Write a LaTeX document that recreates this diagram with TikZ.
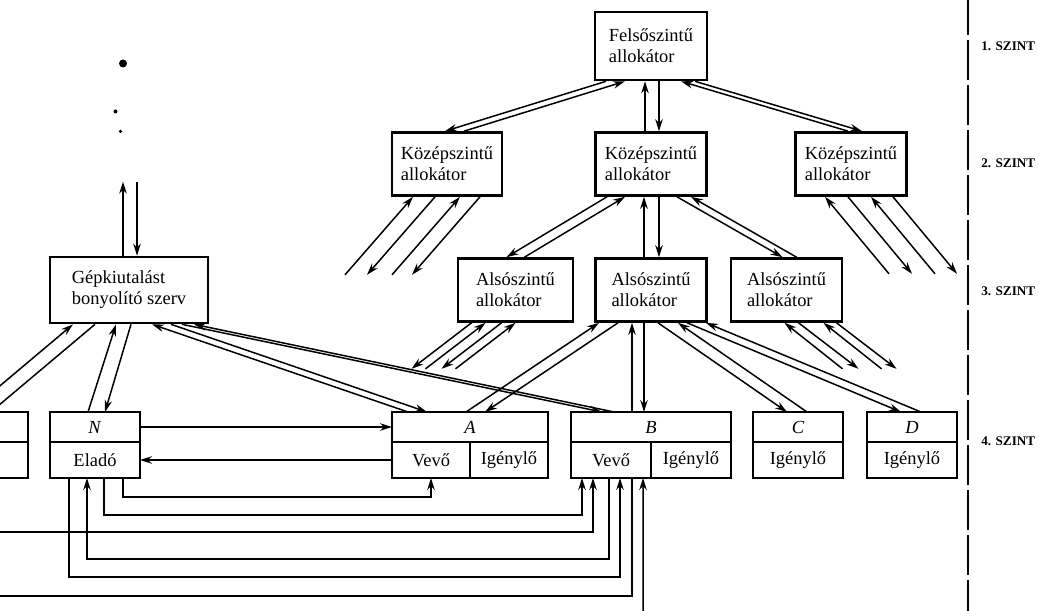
\documentclass[tikz,border=0pt]{standalone}
\usepackage{fontspec}
\setmainfont{Liberation Serif}
\usepackage{tikz}
\usetikzlibrary{arrows.meta, positioning}

\begin{document}
\begin{tikzpicture}[
  box/.style={draw, line width=1.5pt, align=left, font=\fontsize{10.5}{12}\selectfont,
  minimum width=2.22cm, minimum height=1.26cm, inner sep=2pt},
  cell/.style={draw, line width=1.5pt, outer sep=0pt, inner sep=0pt,
  font=\fontsize{10.5}{12}\selectfont, minimum width=1.8cm},
  celltop/.style={cell, minimum height=0.6cm},
  cellbot/.style={cell, minimum height=0.72cm},
  arr/.style={-{Stealth[length=2.4mm,width=1.5mm]}, line width=0.85pt},
  rarr/.style={{Stealth[length=2.4mm,width=1.5mm]}-, line width=0.85pt},
  ln/.style={line width=0.85pt},
  lvl/.style={anchor=west, inner sep=0pt, font=\bfseries\fontsize{7.5}{9}\selectfont}
]
\useasboundingbox (0,0) rectangle (20.78,-12.22);
\clip (0,0) rectangle (20.78,-12.22);

% allokatorok
\node[box, minimum width=2.24cm, minimum height=1.36cm] (felso) at (13.02,-0.92) {Felsőszintű\\allokátor};
\node[box, minimum width=2.2cm] (kozL) at (8.94,-3.28) {Középszintű\\allokátor};
\node[box] (kozM) at (13.02,-3.28) {Középszintű\\allokátor};
\node[box] (kozR) at (17.02,-3.28) {Középszintű\\allokátor};
\node[box, minimum width=2.3cm] (alsL) at (10.31,-5.8) {Alsószintű\\allokátor};
\node[box] (alsM) at (13.02,-5.8) {Alsószintű\\allokátor};
\node[box] (alsR) at (15.73,-5.8) {Alsószintű\\allokátor};
\node[box, minimum width=3.16cm, minimum height=1.32cm] (gep) at (2.58,-5.8) {Gépkiutalást\\bonyolító szerv};

% 4. szint
\node[celltop] (xTop) at (-0.34,-8.54) {};
\node[cellbot, below=0pt of xTop] (xBot) {};
\node[celltop] (nTop) at (1.9,-8.54) {\textit{N}};
\node[cellbot, below=0pt of nTop] (nBot) {Eladó};
\node[celltop, minimum width=3.12cm] (aTop) at (9.4,-8.54) {\textit{A}};
\node[cellbot, minimum width=1.56cm, below right=0pt and 0pt of aTop.south west] (aVevo) {Vevő};
\node[cellbot, minimum width=1.56cm, right=0pt of aVevo] (aIgeny) {Igénylő};
\node[celltop, minimum width=3.2cm] (bTop) at (13.02,-8.54) {\textit{B}};
\node[cellbot, minimum width=1.6cm, below right=0pt and 0pt of bTop.south west] (bVevo) {Vevő};
\node[cellbot, minimum width=1.6cm, right=0pt of bVevo] (bIgeny) {Igénylő};
\node[celltop] (cTop) at (15.96,-8.54) {\textit{C}};
\node[cellbot, below=0pt of cTop] (cIgeny) {Igénylő};
\node[celltop] (dTop) at (18.24,-8.54) {\textit{D}};
\node[cellbot, below=0pt of dTop] (dIgeny) {Igénylő};

% szintek
\draw[line width=0.9pt, dash pattern=on 0.8cm off 0.1cm] (19.36,0.1) -- (19.36,-12.3);
\node[lvl] (sz1) at (19.62,-0.92) {1. SZINT};
\node[lvl] (sz2) at (19.62,-3.26) {2. SZINT};
\node[lvl] (sz3) at (19.62,-5.82) {3. SZINT};
\node[lvl] (sz4) at (19.62,-8.82) {4. SZINT};

\fill (2.46,-1.27) circle (0.08);
\fill (2.31,-2.23) circle (0.04);
\fill (2.41,-2.63) circle (0.035);

\coordinate (westA) at (-0.2,-10.64);
\coordinate (westB) at (-0.2,-11.92);
\coordinate (bFeed) at (12.86,-12.5);

% felso - kozep
\draw[arr] ([xshift=-0.9cm]felso.south) -- ([xshift=-0.04cm]kozL.north);
\draw[arr] ([xshift=0.34cm]kozL.north) -- ([xshift=-0.52cm]felso.south);
\draw[arr] ([xshift=-0.12cm]kozM.north) -- ([xshift=-0.12cm]felso.south);
\draw[arr] ([xshift=0.16cm]felso.south) -- ([xshift=0.16cm]kozM.north);
\draw[arr] ([xshift=-0.06cm]kozR.north) -- ([xshift=0.6cm]felso.south);
\draw[arr] ([xshift=0.88cm]felso.south) -- ([xshift=0.22cm]kozR.north);

% kozep - also
\draw[arr] ([xshift=-0.88cm]kozM.south) -- ([xshift=-0.18cm]alsL.north);
\draw[arr] ([xshift=0.18cm]alsL.north) -- ([xshift=-0.52cm]kozM.south);
\draw[arr] ([xshift=-0.14cm]alsM.north) -- ([xshift=-0.14cm]kozM.south);
\draw[arr] ([xshift=0.16cm]kozM.south) -- ([xshift=0.16cm]alsM.north);
\draw[arr] ([xshift=0.52cm]kozM.south) -- ([xshift=-0.08cm]alsR.north);
\draw[arr] ([xshift=0.2cm]alsR.north) -- ([xshift=0.8cm]kozM.south);

% kifele mutato nyilak
\foreach \dx in {-0.68,0.26} \draw[rarr] ([xshift=\dx cm]kozL.south) -- ++(-1.36,-1.56);
\foreach \dx in {-0.24,0.66} \draw[arr] ([xshift=\dx cm]kozL.south) -- ++(-1.36,-1.56);
\foreach \dx in {-0.52,0.4} \draw[rarr] ([xshift=\dx cm]kozR.south) -- ++(1.28,-1.54);
\foreach \dx in {-0.06,0.84} \draw[arr] ([xshift=\dx cm]kozR.south) -- ++(1.28,-1.54);
\foreach \dx in {-0.88,-0.28} \draw[arr] ([xshift=\dx cm]alsL.south) -- ++(-1.2,-0.92);
\foreach \dx in {-0.6,0.0} \draw[rarr] ([xshift=\dx cm]alsL.south) -- ++(-1.2,-0.92);
\foreach \dx in {-0.04,0.74} \draw[rarr] ([xshift=\dx cm]alsR.south) -- ++(1.16,-0.92);
\foreach \dx in {0.24,1.0} \draw[arr] ([xshift=\dx cm]alsR.south) -- ++(1.2,-0.92);

% also - 4. szint
\draw[arr] ([xshift=-0.08cm]aTop.north) -- ([xshift=-1.04cm]alsM.south);
\draw[arr] ([xshift=-0.66cm]alsM.south) -- ([xshift=0.3cm]aTop.north);
\draw[arr] ([xshift=-0.38cm]bTop.north) -- ([xshift=-0.38cm]alsM.south);
\draw[arr] ([xshift=-0.14cm]alsM.south) -- ([xshift=-0.14cm]bTop.north);
\draw[arr] ([xshift=0.14cm]alsM.south) -- ([xshift=-0.22cm]cTop.north);
\draw[arr] ([xshift=0.18cm]cTop.north) -- ([xshift=0.54cm]alsM.south);
\draw[arr] ([xshift=0.72cm]alsM.south) -- ([xshift=-0.22cm]dTop.north);
\draw[arr] ([xshift=0.18cm]dTop.north) -- ([xshift=1.1cm]alsM.south);

% gepkiutalas
\draw[arr] ([xshift=-0.12cm]gep.north) -- ++(0,1.48);
\draw[rarr] ([xshift=0.16cm]gep.north) -- ++(0,1.48);
\draw[rarr] ([xshift=-1.12cm]gep.south) -- ++(-1.9,-1.6);
\draw[ln] ([xshift=-0.68cm]gep.south) -- ++(-2.4,-2.02);
\draw[arr] ([xshift=-0.14cm]nTop.north) -- ([xshift=-0.26cm]gep.south);
\draw[arr] ([xshift=0.04cm]gep.south) -- ([xshift=0.2cm]nTop.north);
\draw[arr] ([xshift=-1.24cm]aTop.north) -- ([xshift=0.46cm]gep.south);
\draw[arr] ([xshift=0.84cm]gep.south) -- ([xshift=-0.86cm]aTop.north);
\draw[arr] ([xshift=1.06cm]gep.south) -- ([xshift=-0.98cm]bTop.north);
\draw[arr] ([xshift=-0.74cm]bTop.north) -- ([xshift=1.3cm]gep.south);

% elado - vevok
\draw[arr] (nTop.east) -- (aTop.west);
\draw[arr] (aVevo.west) -- (nBot.east);
\draw[arr] ([xshift=0.56cm]nBot.south) -- ++(0,-0.38) -| (aVevo.south);
\draw[arr] ([xshift=0.18cm]nBot.south) -- ++(0,-0.74) -| ([xshift=-0.58cm]bVevo.south);
\draw[arr] (westA) -| ([xshift=-0.36cm]bVevo.south);
\draw[arr] ([xshift=-0.04cm]bVevo.south) -- ++(0,-1.62) -| ([xshift=-0.16cm]nBot.south);
\draw[arr] ([xshift=-0.52cm]nBot.south) -- ++(0,-1.98) -| ([xshift=0.18cm]bVevo.south);
\draw[ln] ([xshift=0.42cm]bVevo.south) |- (westB);
\draw[arr] (bFeed) -- ([xshift=0.64cm]bVevo.south);
\end{tikzpicture}
\end{document}
